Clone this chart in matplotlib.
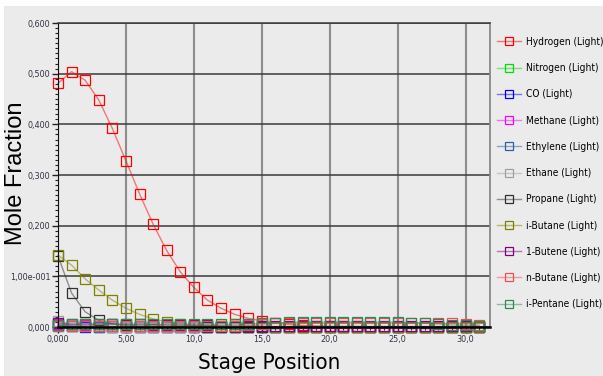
import numpy as np
import matplotlib
matplotlib.use('Agg')
import matplotlib.pyplot as plt
from matplotlib.ticker import FixedLocator, FixedFormatter, MultipleLocator
from matplotlib.patches import Rectangle
from matplotlib.font_manager import FontProperties

plt.rcParams['font.family'] = ['Liberation Sans', 'DejaVu Sans']

############################
stages = np.arange(32)

hydrogen = [0.481, 0.504, 0.487, 0.448, 0.392, 0.328, 0.263, 0.203, 0.151, 0.109,
            0.078, 0.053, 0.037, 0.025, 0.017, 0.012, 0.008, 0.005, 0.003, 0.002,
            0.001, 0.001, 0.001, 0.0, 0.0, 0.0, 0.0, 0.0, 0.0, 0.0, 0.0, 0.0]
nitrogen = [0.003, 0.001] + [0.0] * 30
co = [0.002, 0.001] + [0.0] * 30
methane = [0.006, 0.004, 0.003, 0.002, 0.001] + [0.0] * 27
ethylene = [0.004, 0.002, 0.001] + [0.0] * 29
ethane = [0.012, 0.004, 0.002, 0.001] + [0.0] * 28
propane = [0.140, 0.067, 0.030, 0.013, 0.006, 0.003, 0.002, 0.001, 0.001, 0.001,
           0.001] + [0.0] * 21
i_butane = [0.142, 0.122, 0.095, 0.073, 0.053, 0.037, 0.025, 0.016, 0.010, 0.006,
            0.004, 0.003, 0.002, 0.001, 0.001, 0.001] + [0.0] * 16
butene_1 = [0.008, 0.006, 0.006, 0.006, 0.006, 0.005, 0.005, 0.004, 0.004, 0.003,
            0.003, 0.003, 0.002, 0.002, 0.002, 0.001] + [0.001] * 16
n_butane = [0.001] * 14 + [0.003, 0.005, 0.007, 0.007, 0.007, 0.007, 0.007, 0.007,
                           0.007, 0.007, 0.007, 0.007, 0.007, 0.007, 0.007, 0.007,
                           0.006, 0.004]
i_pentane = [0.004, 0.005, 0.005, 0.005, 0.005, 0.005, 0.005, 0.005, 0.005, 0.005,
             0.005, 0.005, 0.005, 0.005, 0.006, 0.007, 0.008, 0.009, 0.010, 0.010,
             0.010, 0.010, 0.010, 0.010, 0.010, 0.010, 0.008, 0.008, 0.006, 0.004,
             0.003, 0.002]

series = [hydrogen, nitrogen, co, methane, ethylene, ethane, propane,
          i_butane, butene_1, n_butane, i_pentane]
labels = ['Hydrogen (Light)', 'Nitrogen (Light)', 'CO (Light)', 'Methane (Light)',
          'Ethylene (Light)', 'Ethane (Light)', 'Propane (Light)', 'i-Butane (Light)',
          '1-Butene (Light)', 'n-Butane (Light)', 'i-Pentane (Light)']
colors = ['#ff0000', '#00e000', '#0000ff', '#ff00ff', '#2f5f9f', '#a0a0a0',
          '#303030', '#808000', '#800080', '#f05050', '#2e8b4f']

yticks = [0.0, 0.1, 0.2, 0.3, 0.4, 0.5, 0.6]
ytick_labels = ['0,000', '1,00e-001', '0,200', '0,300', '0,400', '0,500', '0,600']
xticks = [0, 5, 10, 15, 20, 25, 30]
xtick_labels = ['0,000', '5,00', '10,0', '15,0', '20,0', '25,0', '30,0']
############################

def narrow(size):
    return FontProperties(family=['DejaVu Sans'], stretch='condensed', size=size)

bg = '#ebebeb'
fig = plt.figure(figsize=(6.03, 3.76), dpi=100, facecolor=bg)
# white strips at top and left edges
fig.patches.append(Rectangle((0, 1 - 6 / 376), 1, 6 / 376, transform=fig.transFigure,
                             facecolor='white', edgecolor='none', zorder=-1))
fig.patches.append(Rectangle((0, 0), 4 / 603, 1, transform=fig.transFigure,
                             facecolor='white', edgecolor='none', zorder=-1))

ax = fig.add_axes([58 / 603, 49 / 376, 432 / 603, 304 / 376])
ax.set_facecolor(bg)

for vals, lab, col in zip(series, labels, colors):
    rgba = matplotlib.colors.to_rgba(col, 0.5)
    ax.plot(stages, vals, color=rgba, linewidth=1.0, marker='s', markersize=7,
            markerfacecolor='none', markeredgecolor=col, markeredgewidth=0.9,
            label=lab, clip_on=False)

ax.set_xlim(0, 31.8)
ax.set_ylim(0, 0.6)

ax.yaxis.set_major_locator(FixedLocator(yticks))
ax.yaxis.set_major_formatter(FixedFormatter(ytick_labels))
ax.yaxis.set_minor_locator(MultipleLocator(0.01))
ax.xaxis.set_major_locator(FixedLocator(xticks))
ax.xaxis.set_major_formatter(FixedFormatter(xtick_labels))
ax.xaxis.set_minor_locator(MultipleLocator(1))

ax.tick_params(axis='both', which='major', length=4, width=1, color='#222222',
               labelcolor='#333344', pad=1.5)
ax.tick_params(axis='both', which='minor', length=2.5, width=0.8, color='#222222')
for t in ax.get_xticklabels() + ax.get_yticklabels():
    t.set_fontproperties(narrow(6.5))

ax.grid(True, axis='y', which='major', color='#3a3a3a', linewidth=1.1)
ax.grid(True, axis='x', which='major', color='#8c8c8c', linewidth=1.5)
ax.set_axisbelow(True)

ax.spines['left'].set_color('#111111')
ax.spines['bottom'].set_color('#000000')
ax.spines['bottom'].set_linewidth(1.8)
ax.spines['right'].set_color('#888888')
ax.spines['right'].set_linewidth(1.3)
ax.spines['top'].set_color('#3a3a3a')
ax.spines['top'].set_linewidth(1.1)

ax.set_ylabel('Mole Fraction', fontsize=17, color='black', va='center')
ax.yaxis.set_label_coords(-0.097, 0.505)
ax.set_xlabel('Stage Position', fontproperties=narrow(16), color='black', va='center')
ax.xaxis.set_label_coords(0.49, -0.12)

fig.legend(loc='upper left', bbox_to_anchor=(497 / 603, 1 - 37 / 376),
           frameon=False, prop=narrow(7.3),
           borderpad=0, borderaxespad=0, handlelength=2.4, handletextpad=0.45,
           labelspacing=1.6, markerscale=0.8)

fig.savefig('out.png', dpi=100, facecolor=bg)
